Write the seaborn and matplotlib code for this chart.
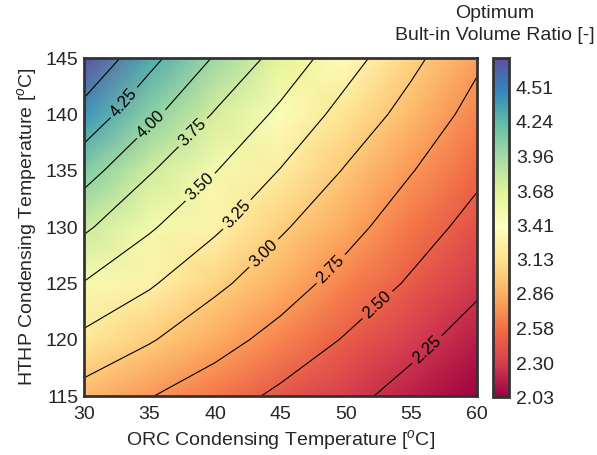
import numpy as np
import pandas as pd
import matplotlib
matplotlib.use("Agg")
import matplotlib.pyplot as plt
from matplotlib.colors import Normalize
import seaborn as sns

# ---- data ----
orc_temps = [30, 35, 40, 45, 50, 55, 60]          # ORC condensing temperature [oC]
hthp_temps = [115, 120, 125, 130, 135, 140, 145]   # HTHP condensing temperature [oC]
vr_115 = [2.91, 2.76, 2.62, 2.45, 2.31, 2.17, 2.03]
vr_120 = [3.19, 3.02, 2.84, 2.67, 2.48, 2.31, 2.16]
vr_125 = [3.49, 3.28, 3.05, 2.86, 2.66, 2.47, 2.29]
vr_130 = [3.79, 3.53, 3.29, 3.03, 2.83, 2.61, 2.42]
vr_135 = [4.10, 3.77, 3.51, 3.24, 2.98, 2.76, 2.55]
vr_140 = [4.41, 4.06, 3.73, 3.45, 3.16, 2.91, 2.67]
vr_145 = [4.72, 4.32, 3.98, 3.66, 3.35, 3.06, 2.79]
contour_levels = [2.25, 2.50, 2.75, 3.00, 3.25, 3.50, 3.75, 4.00, 4.25, 4.50]
labelled_levels = [2.25, 2.50, 2.75, 3.00, 3.25, 3.50, 3.75, 4.00, 4.25]
cbar_ticks = [2.03, 2.30, 2.58, 2.86, 3.13, 3.41, 3.68, 3.96, 4.24, 4.51]
vmin, vmax = 2.03, 4.75

# label anchor points (approximate positions on the lines)
label_points = [(56.2, 119.1), (52.4, 123.1), (48.9, 126.2), (43.7, 127.7),
                (41.7, 131.1), (38.9, 133.5), (38.3, 138.4), (35.2, 139.05),
                (33.0, 141.1)]

rows = [vr_115, vr_120, vr_125, vr_130, vr_135, vr_140, vr_145]
df = pd.DataFrame(rows, index=hthp_temps, columns=orc_temps)

# ---- style ----
sns.set_theme(style="white")
plt.rcParams["font.family"] = ["Liberation Sans", "DejaVu Sans"]
plt.rcParams["mathtext.fontset"] = "custom"
plt.rcParams["mathtext.rm"] = "Liberation Sans"
plt.rcParams["mathtext.it"] = "Liberation Sans:italic"

fig = plt.figure(figsize=(5.97, 4.55), dpi=100)
W, H = 597, 455
ax = fig.add_axes([84 / W, (H - 396) / H, 393 / W, 338 / H])
cax = fig.add_axes([493 / W, (H - 397) / H, 16 / W, 339 / H])

cmap = sns.color_palette("Spectral", as_cmap=True)
norm = Normalize(vmin=vmin, vmax=vmax)

X, Y = np.meshgrid(df.columns.values.astype(float), df.index.values.astype(float))
Z = df.values
mesh = ax.pcolormesh(X, Y, Z, shading="gouraud", cmap=cmap, norm=norm)
cs = ax.contour(X, Y, Z, levels=contour_levels, colors="black", linewidths=0.8)
ax.clabel(cs, levels=labelled_levels, fmt="%.2f", fontsize=12,
          inline=True, inline_spacing=4, manual=label_points)

ax.set_xlim(30, 60)
ax.set_ylim(115, 145)
ax.set_xticks(orc_temps)
ax.set_yticks(hthp_temps)
ax.tick_params(labelsize=14, length=0, colors="0.15")
ax.tick_params(axis="x", pad=7)
ax.tick_params(axis="y", pad=4)
ax.set_xlabel(r"ORC Condensing Temperature [$^o$C]", fontsize=14, color="0.15", labelpad=4)
ax.set_ylabel(r"HTHP Condensing Temperature [$^o$C]", fontsize=14, color="0.15", labelpad=5)
for s in ax.spines.values():
    s.set_linewidth(2.0)
    s.set_color("0.2")

cb = fig.colorbar(mesh, cax=cax, ticks=cbar_ticks)
cb.ax.set_yticklabels([f"{t:.2f}" for t in cbar_ticks])
cb.ax.tick_params(labelsize=14, pad=5, length=0, colors="0.15")
cb.outline.set_linewidth(2.0)
cb.outline.set_edgecolor("0.2")

fig.text(495 / W, 1 - 13 / H, "Optimum", ha="center", va="center", fontsize=14, color="0.15")
fig.text(495 / W, 1 - 35 / H, "Bult-in Volume Ratio [-]", ha="center", va="center",
         fontsize=14, color="0.15")

fig.savefig("out.png", dpi=100)
